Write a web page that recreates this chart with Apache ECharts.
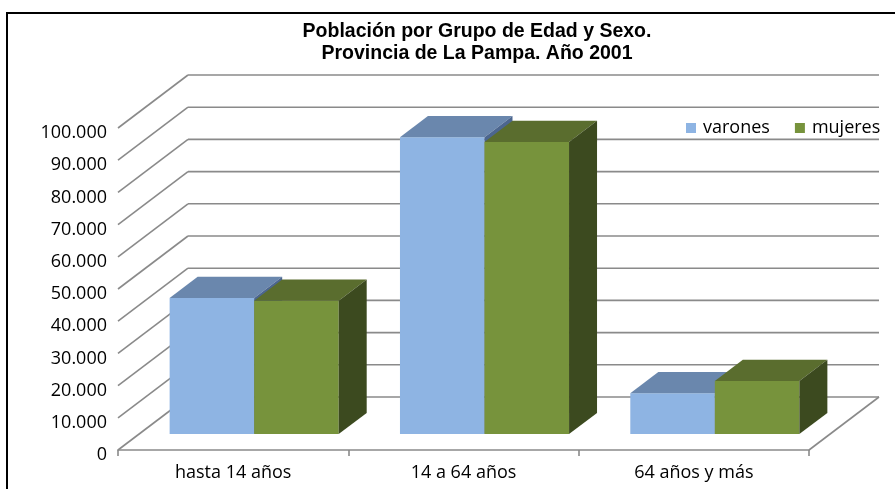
<!DOCTYPE html>
<html>
<head>
<meta charset="utf-8">
<title>Población por Grupo de Edad y Sexo</title>
<script src="https://cdn.jsdelivr.net/npm/echarts@6/dist/echarts.min.js"></script>
<style>
    html, body { margin: 0; padding: 0; background: #fff; }
    #chart { width: 895px; height: 489px; }
</style>
</head>
<body>
<div id="chart"></div>
<script>
    // datos
    const categories = ['hasta 14 años', '14 a 64 años', '64 años y más'];
    const varones = [42300, 92200, 12700];
    const mujeres = [41400, 90700, 16500];
    const yTicks = [0, 10000, 20000, 30000, 40000, 50000, 60000, 70000, 80000, 90000, 100000];

    // profundidad de la perspectiva 3D (pared del fondo)
    const DX = 70;
    const DY = -53;
    const FRONT = 0.3;   // cara frontal de las barras
    const DEPTH = 0.4;   // espesor de las barras
    const BAR_RATIO = 0.367;
    const GRID_COLOR = '#8a8a8a';
    const FONT = 'Open Sans';

    const colors = {
        varones: { front: '#8EB4E3', top: '#6A87AD', side: '#4C668F' },
        mujeres: { front: '#77933C', top: '#5A6D2E', side: '#3C4A1F' }
    };

    function fmt(v) {
        return String(v).replace(/\B(?=(\d{3})+(?!\d))/g, '.');
    }

    function wallItem(params, api) {
        const cs = params.coordSys;
        const v = api.value(0);
        const y = api.coord([0, v])[1];
        const x0 = cs.x;
        const children = [
            { type: 'line', shape: { x1: x0, y1: y, x2: x0 + DX, y2: y + DY } },
            { type: 'line', shape: { x1: x0 + DX, y1: y + DY, x2: x0 + cs.width + DX, y2: y + DY } }
        ];
        if (v === 0) {
            children.push({ type: 'line', shape: { x1: x0 + cs.width, y1: y, x2: x0 + cs.width + DX, y2: y + DY } });
        }
        children.forEach(c => { c.style = { stroke: GRID_COLOR, lineWidth: 1.6 }; c.silent = true; });
        return { type: 'group', children: children };
    }

    function barRenderer(side, col) {
        return function (params, api) {
            const idx = api.value(0);
            const val = api.value(1);
            const base = api.coord([idx, 0]);
            const top = api.coord([idx, val]);
            const bw = api.size([1, 0])[0] * BAR_RATIO;
            const sx = FRONT * DX, sy = FRONT * DY;
            const dx = DEPTH * DX, dy = DEPTH * DY;
            const x0 = base[0] + side * bw + sx;
            const x1 = x0 + bw;
            const yB = base[1] + sy;
            const yT = top[1] + sy;
            return {
                type: 'group',
                children: [
                    { type: 'polygon', shape: { points: [[x0, yT], [x1, yT], [x1, yB], [x0, yB]] }, style: { fill: col.front } },
                    { type: 'polygon', shape: { points: [[x0, yT], [x1, yT], [x1 + dx, yT + dy], [x0 + dx, yT + dy]] }, style: { fill: col.top } },
                    { type: 'polygon', shape: { points: [[x1, yT], [x1 + dx, yT + dy], [x1 + dx, yB + dy], [x1, yB]] }, style: { fill: col.side } }
                ]
            };
        };
    }

    const chart = echarts.init(document.getElementById('chart'));
    chart.setOption({
        animation: false,
        backgroundColor: '#fff',
        title: {
            text: 'Población por Grupo de Edad y Sexo.\nProvincia de La Pampa. Año 2001',
            left: 477,
            top: 21,
            padding: 0,
            textAlign: 'center',
            textStyle: {
                fontFamily: 'Liberation Sans',
                fontWeight: 'bold',
                fontSize: 19.5,
                lineHeight: 22,
                color: '#000'
            }
        },
        legend: {
            left: 681,
            top: 114,
            itemWidth: 10,
            itemHeight: 10,
            itemGap: 25,
            icon: 'rect',
            textStyle: { fontFamily: FONT, fontSize: 18, color: '#000', padding: [0, 0, 0, 2] },
            data: ['varones', 'mujeres']
        },
        graphic: [{
            type: 'rect',
            shape: { x: 7, y: 13, width: 900, height: 490 },
            style: { fill: 'none', stroke: '#000', lineWidth: 2 },
            silent: true,
            z: 100
        }],
        grid: { left: 118, top: 128, width: 691, height: 322 },
        xAxis: {
            type: 'category',
            data: categories,
            axisLine: { lineStyle: { color: GRID_COLOR, width: 1.6 } },
            axisTick: { show: true, length: 6, lineStyle: { color: GRID_COLOR, width: 1.6 } },
            axisLabel: { fontFamily: FONT, fontSize: 18, color: '#000', margin: 14 }
        },
        yAxis: {
            type: 'value',
            min: 0,
            max: 100000,
            interval: 10000,
            axisLine: { show: false },
            axisTick: { show: false },
            splitLine: { show: false },
            axisLabel: {
                fontFamily: FONT, fontSize: 18, color: '#000', margin: 11,
                verticalAlign: 'top', lineHeight: 10, formatter: fmt
            }
        },
        series: [
            {
                name: 'walls',
                type: 'custom',
                renderItem: wallItem,
                data: yTicks.map(v => [v]),
                encode: { y: 0 },
                clip: false,
                silent: true,
                z: 1
            },
            {
                name: 'varones',
                type: 'custom',
                renderItem: barRenderer(-1, colors.varones),
                itemStyle: { color: colors.varones.front },
                data: varones.map((v, i) => [i, v]),
                encode: { x: 0, y: 1 },
                clip: false,
                z: 2
            },
            {
                name: 'mujeres',
                type: 'custom',
                renderItem: barRenderer(0, colors.mujeres),
                itemStyle: { color: colors.mujeres.front },
                data: mujeres.map((v, i) => [i, v]),
                encode: { x: 0, y: 1 },
                clip: false,
                z: 3
            }
        ]
    });
</script>
</body>
</html>
